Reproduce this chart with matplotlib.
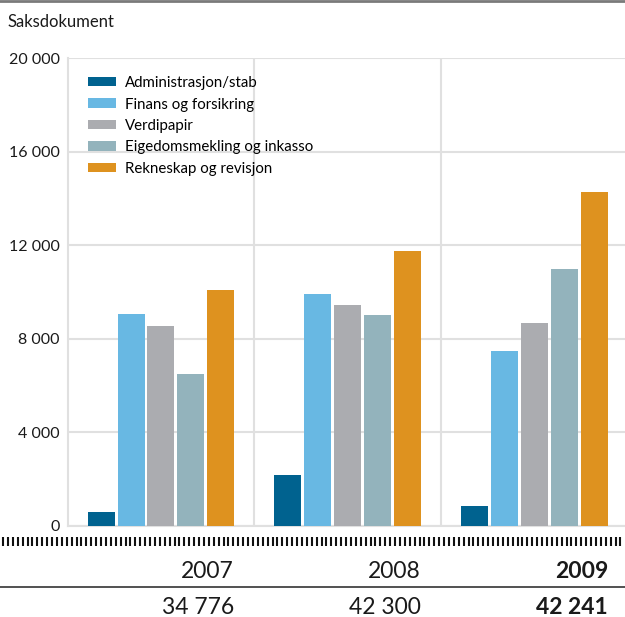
import numpy as np
import matplotlib.pyplot as plt
from matplotlib.lines import Line2D

plt.rcParams['font.family'] = ['Lato', 'DejaVu Sans']

years = ['2007', '2008', '2009']
totals = ['34 776', '42 300', '42 241']
categories = ['Administrasjon/stab', 'Finans og forsikring', 'Verdipapir',
              'Eigedomsmekling og inkasso', 'Rekneskap og revisjon']
admin = [570, 2190, 830]
finans = [9060, 9910, 7470]
verdi = [8550, 9440, 8670]
eigedom = [6490, 9010, 10990]
rekneskap = [10106, 11750, 14281]
yticks = [0, 4000, 8000, 12000, 16000, 20000]
ytick_labels = ['0', '4 000', '8 000', '12 000', '16 000', '20 000']

colors = ['#00628f', '#68b8e3', '#abacb0', '#93b3bc', '#de921f']
series = [admin, finans, verdi, eigedom, rekneskap]

W, H = 625, 617
fig = plt.figure(figsize=(W / 100, H / 100), dpi=100)

# overlay in pixel coordinates for the decorations around the plot
deco = fig.add_axes([0, 0, 1, 1], zorder=0)
deco.set_xlim(0, W)
deco.set_ylim(H, 0)
deco.axis('off')

ax = fig.add_axes([68 / W, 1 - 525.7 / H, (W - 68) / W, (525.7 - 58.3) / H], zorder=1)
ax.patch.set_alpha(0)

x = np.arange(len(years))
pitch = 0.1606
width = 0.1446
for i, (vals, c, name) in enumerate(zip(series, colors, categories)):
    ax.bar(x + (i - 2) * pitch, vals, width=width, color=c, label=name, zorder=3)

ax.set_xlim(-0.498, 2.485)
ax.set_ylim(0, 20000)
ax.set_yticks(yticks)
ax.set_yticklabels(ytick_labels)
ax.set_xticks([])
ax.tick_params(axis='y', length=0, pad=6, labelsize=11.5, labelcolor='#1a1a1a')
ax.grid(axis='y', color='#e0e0e0', lw=1.5, zorder=0)
for sep in [0.5, 1.5]:
    ax.axvline(sep, color='#e0e0e0', lw=1.5, zorder=0)
for side in ['top', 'right']:
    ax.spines[side].set_visible(False)
for side in ['left', 'bottom']:
    ax.spines[side].set_color('#e0e0e0')
    ax.spines[side].set_linewidth(1.5)

ax.legend(loc='upper left', bbox_to_anchor=(88 / W, 1 - 76 / H),
          bbox_transform=fig.transFigure, frameon=False, fontsize=10.8,
          handlelength=1.85, handleheight=0.6, handletextpad=0.6,
          labelspacing=0.5, borderaxespad=0, borderpad=0)

# top rule and title
deco.add_line(Line2D([0, W], [1, 1], color='#7a7a7a', lw=2))
deco.text(8, 22, 'Saksdokument', fontsize=12, va='center', ha='left', color='#1a1a1a')

# hatch row under the axis
deco.vlines(np.arange(3, W, 4.9), 537, 546, color='#111111', lw=1.5)

# year and total rows
right_edges = [234, 421, 608]
for xr, yr, tot in zip(right_edges, years, totals):
    weight = 'bold' if yr == years[-1] else 'normal'
    deco.text(xr, 571, yr, fontsize=16.5, ha='right', va='center',
              color='#1a1a1a', fontweight=weight)
    deco.text(xr, 607, tot, fontsize=16.5, ha='right', va='center',
              color='#1a1a1a', fontweight=weight)
deco.add_line(Line2D([0, W], [587, 587], color='#333333', lw=1.2))

fig.savefig('out.png', dpi=100)
